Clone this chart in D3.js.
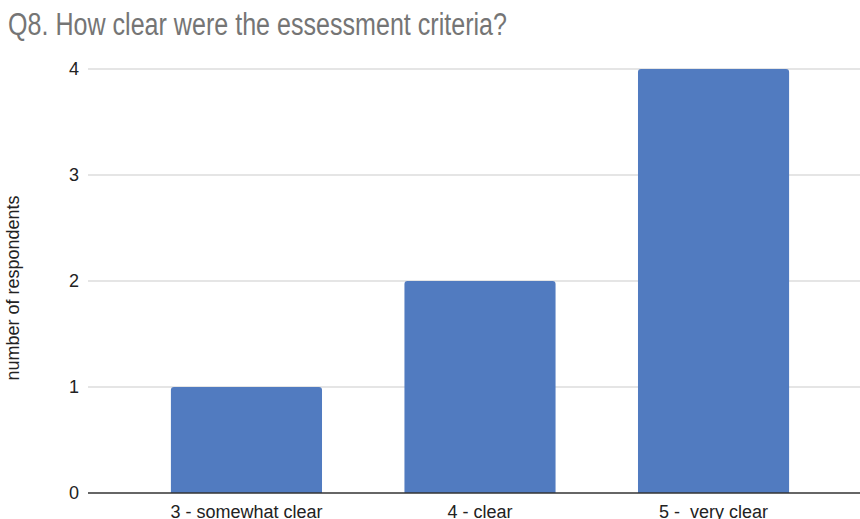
<!DOCTYPE html>
<html>
<head>
<meta charset="utf-8">
<script src="https://cdn.jsdelivr.net/npm/d3@7"></script>
<style>
  html, body { margin: 0; padding: 0; background: #fff; }
  svg { display: block; font-family: "Liberation Sans", Arial, Helvetica, sans-serif; }
</style>
</head>
<body>
<svg id="chart" width="860" height="519"></svg>
<script>
// Survey responses for Q8
const categories = ["3 - somewhat clear", "4 - clear", "5 -  very clear"];
const respondents = [1, 2, 4];
const yTicks = [0, 1, 2, 3, 4];
const titleText = "Q8. How clear were the essessment criteria?";
const yAxisTitle = "number of respondents";

const svg = d3.select("#chart");
const width = 860, height = 519;
const plot = { left: 88, right: 872, top: 69, bottom: 493 };

const x = d3.scaleBand()
  .domain(categories)
  .range([plot.left, plot.right])
  .paddingInner(0.353)
  .paddingOuter(0.355);

const y = d3.scaleLinear()
  .domain([0, 4])
  .range([plot.bottom, plot.top]);

// Title
svg.append("text")
  .attr("x", 8)
  .attr("y", 35)
  .attr("fill", "#757575")
  .attr("font-size", 31)
  .attr("textLength", 499)
  .attr("lengthAdjust", "spacingAndGlyphs")
  .text(titleText);

// Horizontal gridlines
svg.append("g")
  .selectAll("line")
  .data(yTicks.filter(d => d !== 0))
  .join("line")
  .attr("x1", plot.left)
  .attr("x2", width)
  .attr("y1", d => y(d))
  .attr("y2", d => y(d))
  .attr("stroke", "#cccccc")
  .attr("stroke-width", 1.2);

// Y tick labels
svg.append("g")
  .selectAll("text")
  .data(yTicks)
  .join("text")
  .attr("x", 79)
  .attr("y", d => y(d))
  .attr("dy", "0.36em")
  .attr("text-anchor", "end")
  .attr("font-size", 18)
  .attr("fill", "#222")
  .text(d => d);

// Bars with slightly rounded top corners
const r = 3;
svg.append("g")
  .selectAll("path")
  .data(categories.map((c, i) => ({ c, v: respondents[i] })))
  .join("path")
  .attr("fill", "#517bc0")
  .attr("d", d => {
    const x0 = x(d.c), x1 = x0 + x.bandwidth();
    const y0 = y(0), y1 = y(d.v);
    return `M${x0},${y0}V${y1 + r}Q${x0},${y1} ${x0 + r},${y1}H${x1 - r}Q${x1},${y1} ${x1},${y1 + r}V${y0}Z`;
  });

// Baseline
svg.append("line")
  .attr("x1", plot.left)
  .attr("x2", width)
  .attr("y1", y(0))
  .attr("y2", y(0))
  .attr("stroke", "#333")
  .attr("stroke-width", 1.5);

// X category labels
svg.append("g")
  .selectAll("text")
  .data(categories)
  .join("text")
  .attr("x", d => x(d) + x.bandwidth() / 2)
  .attr("y", 518)
  .attr("text-anchor", "middle")
  .attr("font-size", 18)
  .attr("fill", "#222")
  .attr("xml:space", "preserve")
  .style("white-space", "pre")
  .text(d => d);

// Y axis title
svg.append("text")
  .attr("transform", "translate(19,288) rotate(-90)")
  .attr("text-anchor", "middle")
  .attr("font-size", 18)
  .attr("fill", "#222")
  .text(yAxisTitle);
</script>
</body>
</html>
